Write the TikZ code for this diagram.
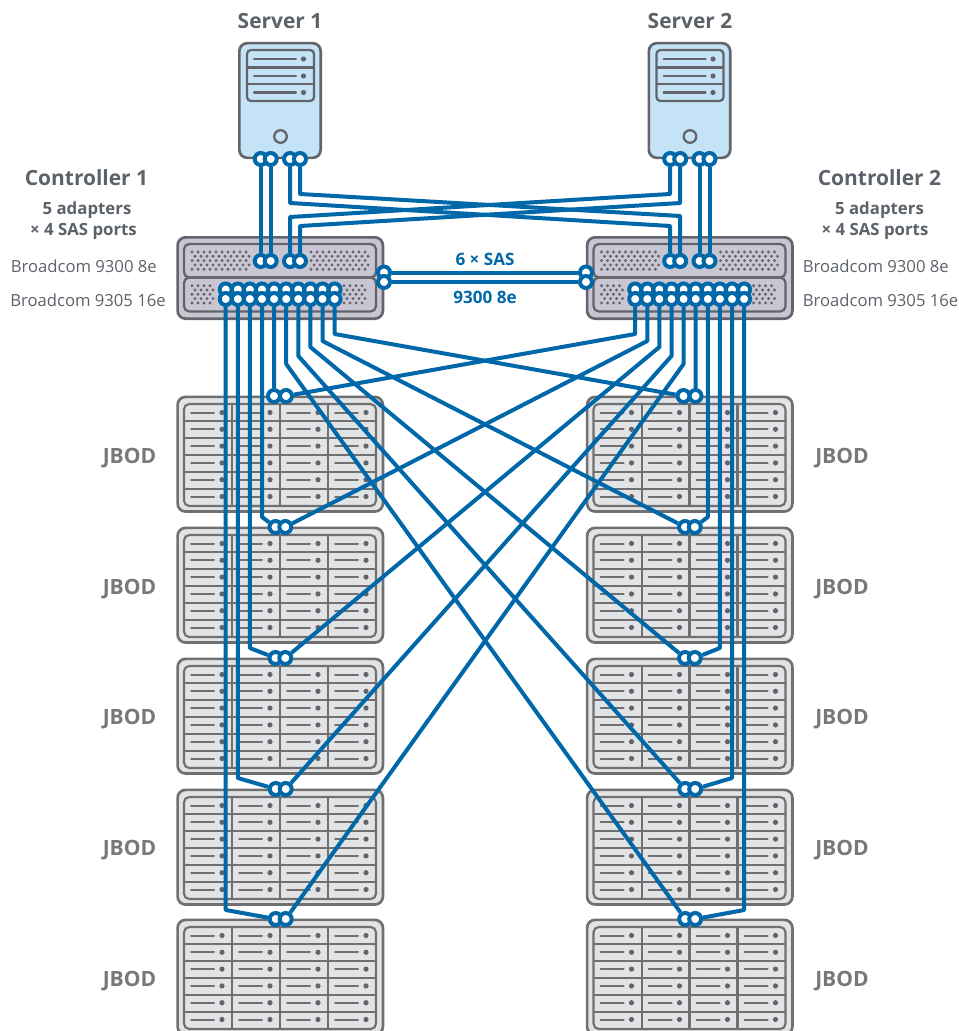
\documentclass[tikz,border=0pt]{standalone}
\usepackage{fontspec}
\setmainfont{Open Sans}
\definecolor{sasblue}{HTML}{0068A8}
\definecolor{edgegray}{HTML}{636469}
\definecolor{jbodedge}{HTML}{707072}
\definecolor{srvfill}{HTML}{C5E3F7}
\definecolor{ctrlfill}{HTML}{C9C6D4}
\definecolor{jbodfill}{HTML}{E2E3E5}
\definecolor{headgray}{HTML}{5C6269}
\definecolor{jbodgray}{HTML}{77787B}
\begin{document}
\begin{tikzpicture}[
    x=0.75pt, y=-0.75pt,
    casing/.style={draw=edgegray, line width=2pt, rounded corners=6pt, minimum width=154pt, inner sep=0pt},
    srvbox/.style={casing, fill=srvfill, minimum width=61pt, minimum height=86pt},
    ctrlbox/.style={casing, fill=ctrlfill, minimum height=61pt},
    jbodbox/.style={casing, draw=jbodedge, fill=jbodfill, minimum height=86pt},
    trim/.style={draw=edgegray, line width=1.7pt},
    jtrim/.style={draw=jbodedge, line width=1.6pt},
    led/.style={fill=edgegray},
    port/.style={circle, draw=sasblue, fill=white, line width=3pt, minimum size=9pt, inner sep=0pt},
    cable/.style={draw=sasblue, line width=3pt, line join=round},
    head/.style={font=\bfseries\fontsize{15.7}{18}\selectfont, text=headgray},
    sub/.style={font=\bfseries\fontsize{12.6}{15}\selectfont, text=headgray},
    card/.style={anchor=west, inner sep=0pt, font=\fontsize{12.5}{15}\selectfont, text=headgray},
    bay/.style={font=\bfseries\fontsize{15.8}{18}\selectfont, text=jbodgray},
    saslabel/.style={font=\bfseries\fontsize{12.8}{15}\selectfont, text=sasblue},
]
\useasboundingbox (0,0) rectangle (959,1031);
\clip (0,0) rectangle (959,1031);

\node[head] (srv1title) at (280,21) {Server 1};
\node[head] (srv2title) at (690,21) {Server 2};
\node[head] (ctrl1title) at (86.5,178) {Controller 1};
\node[head] (ctrl2title) at (879.5,178) {Controller 2};
\node[sub] (ctrl1count) at (87,210) {5 adapters};
\node[sub] (ctrl1ports) at (83.5,231.5) {× 4 SAS ports};
\node[sub] (ctrl2count) at (879.5,210) {5 adapters};
\node[sub] (ctrl2ports) at (875,231.5) {× 4 SAS ports};
\node[card] (ctrl1top) at (10.5,266) {Broadcom 9300 8e};
\node[card] (ctrl1low) at (10,300) {Broadcom 9305 16e};
\node[card] (ctrl2top) at (802.5,266) {Broadcom 9300 8e};
\node[card] (ctrl2low) at (802.5,300) {Broadcom 9305 16e};

% servers
\foreach \n/\dx in {1/0, 2/409.5} {
    \node[srvbox] (srv\n) at (280+\dx,100.5) {};
    \draw[trim, fill=srvfill, rounded corners=3pt] (247+\dx,50) rectangle (314+\dx,101);
    \draw[trim] (247+\dx,67.5) -- (314+\dx,67.5) (247+\dx,84) -- (314+\dx,84);
    \foreach \ry in {59,76,92.5} {
        \draw[trim, line width=1.5pt, line cap=round] (254+\dx,\ry) -- (296+\dx,\ry);
        \fill[led] (303.5+\dx,\ry) circle (2.6);
    }
    \draw[trim, fill=srvfill] (280.5+\dx,136.5) circle (6.3);
}

% controllers
\foreach \n/\dx in {1/0, 2/409.5} {
    \node[ctrlbox] (ctrl\n) at (280.25+\dx,278) {};
    \draw[trim, rounded corners=4pt] (184+\dx,244) rectangle (376+\dx,277.5);
    \draw[trim, rounded corners=4pt] (184+\dx,277.5) rectangle (376+\dx,311.5);
    \foreach \fx/\fy/\last in {192/252/9, 311/252/9, 192/285.7/3, 344/285.7/3}
        \foreach \r in {0,...,4}
            \foreach \k in {0,...,\last}
                \fill[led] ({\fx+\dx+6*\k+3*mod(\r,2)},{\fy+4.3*\r}) circle (1.6);
}

% jbods
\foreach \side/\dx in {l/0, r/409.5}
    \foreach \i/\ty in {1/397, 2/528, 3/659, 4/790, 5/920} {
        \node[jbodbox] (j\side\i) at (280.25+\dx,\ty+57.2) {};
        \draw[jtrim, rounded corners=4pt] (184+\dx,\ty+7) rectangle (376+\dx,\ty+109);
        \foreach \d in {1,...,5}
            \draw[jtrim] (184+\dx,\ty+7+17*\d) -- (376+\dx,\ty+7+17*\d);
        \foreach \vx in {232.3,280,328}
            \draw[jtrim] (\vx+\dx,\ty+7) -- (\vx+\dx,\ty+109);
        \foreach \vx in {0,48,96,144}
            \foreach \d in {0,...,5} {
                \draw[jtrim, line width=1.5pt, line cap=round] (191+\dx+\vx,\ty+15.5+16.8*\d) -- (214+\dx+\vx,\ty+15.5+16.8*\d);
                \fill[led] (222+\dx+\vx,\ty+15.5+16.8*\d) circle (2.6);
            }
    }
\foreach \i/\ty in {1/458, 2/589, 3/719, 4/850, 5/981} {
    \node[bay] (bayl\i) at (129.5,\ty) {JBOD};
    \node[bay] (bayr\i) at (842,\ty) {JBOD};
}

% ports
\foreach \n/\dx in {1/0, 2/409.5} {
    \foreach \p/\px in {1/260.7, 2/270.7, 3/290, 4/300} {
        \node[port] (srv\n p\p) at (\px+\dx,159) {};
        \node[port] (ctrl\n u\p) at (\px+\dx,261) {};
    }
    \foreach \p in {1,...,10} {
        \node[port] (ctrl\n a\p) at (213.6+12.1*\p+\dx,289.5) {};
        \node[port] (ctrl\n b\p) at (213.6+12.1*\p+\dx,299) {};
    }
}
\node[port] (ctrl1s1) at (384,272.5) {};
\node[port] (ctrl1s2) at (384,282) {};
\node[port] (ctrl2s1) at (586,272.5) {};
\node[port] (ctrl2s2) at (586,282) {};
\foreach \side/\dx in {l/0, r/409.5}
    \foreach \i/\ax/\bx/\py in {1/274/286/396, 2/275.5/285.3/527, 3/275.5/285.3/658, 4/275.7/285.7/789, 5/275.7/285.7/919} {
        \node[port] (j\side\i-a) at (\ax+\dx,\py) {};
        \node[port] (j\side\i-b) at (\bx+\dx,\py) {};
    }

% cables
\foreach \p in {1,2} {
    \draw[cable] (srv1p\p) -- (ctrl1u\p);
    \draw[cable] (srv2p\the\numexpr\p+2\relax) -- (ctrl2u\the\numexpr\p+2\relax);
}
\draw[cable] (srv1p4) -- (srv1p4 |- 0,194) -- (ctrl2u2 |- 0,216) -- (ctrl2u2);
\draw[cable] (srv1p3) -- (srv1p3 |- 0,203) -- (ctrl2u1 |- 0,226) -- (ctrl2u1);
\draw[cable] (ctrl1u3) -- (ctrl1u3 |- 0,217) -- (srv2p1 |- 0,194) -- (srv2p1);
\draw[cable] (ctrl1u4) -- (ctrl1u4 |- 0,226) -- (srv2p2 |- 0,203) -- (srv2p2);
\draw[cable] (ctrl1s1) -- (ctrl2s1);
\draw[cable] (ctrl1s2) -- (ctrl2s2);
\node[saslabel] (saslinks) at (485,259) {6 × SAS};
\node[saslabel] (sascard) at (485,297) {9300 8e};

\draw[cable] (ctrl1b5) -- (jl1-a);
\draw[cable] (ctrl2b6) -- (jr1-b);
\foreach \c/\j/\ky in {1/5/910, 2/4/778, 3/3/648, 4/2/517}
    \draw[cable] (ctrl1b\c) -- (ctrl1b\c |- 0,\ky) -- (jl\j-a);
\foreach \c/\j/\ky in {10/5/910, 9/4/778, 8/3/648, 7/2/517}
    \draw[cable] (ctrl2b\c) -- (ctrl2b\c |- 0,\ky) -- (jr\j-b);
\foreach \c/\j/\ky in {6/5/364, 7/4/356, 8/3/347, 9/2/341, 10/1/334}
    \draw[cable] (ctrl1b\c) -- (ctrl1b\c |- 0,\ky) -- (jr\j-a);
\foreach \c/\j/\ky in {5/5/364, 4/4/356, 3/3/347, 2/2/341, 1/1/334}
    \draw[cable] (ctrl2b\c) -- (ctrl2b\c |- 0,\ky) -- (jl\j-b);
\end{tikzpicture}
\end{document}
